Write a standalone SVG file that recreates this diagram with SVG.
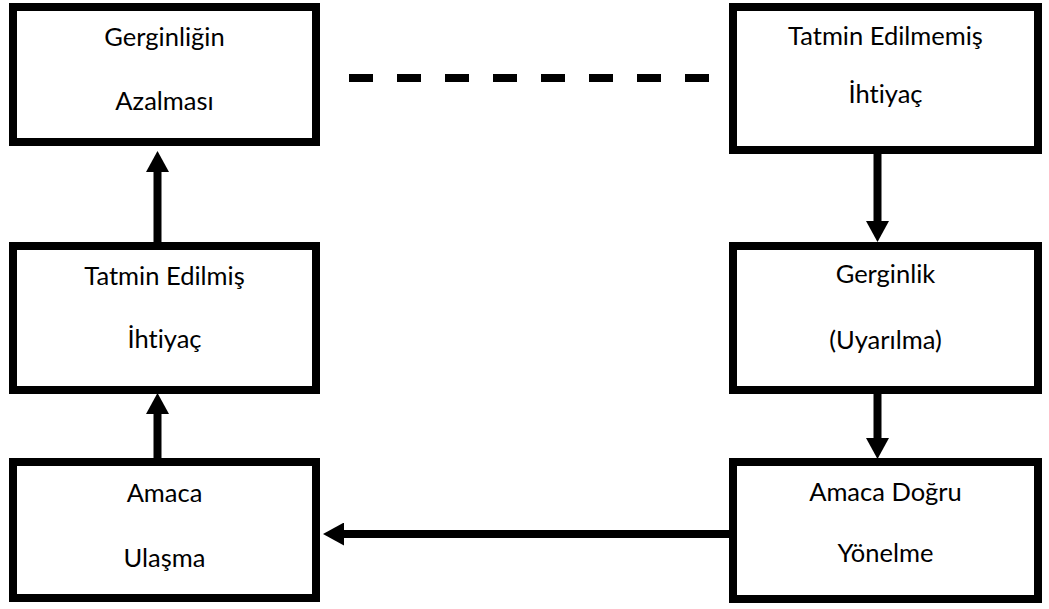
<svg xmlns="http://www.w3.org/2000/svg" width="1049" height="609" viewBox="0 0 1049 609">
<style>
.box{fill:#fff;stroke:#000;stroke-width:8}
.lbl{font-family:Lato,"Liberation Sans",sans-serif;font-size:25.5px;fill:#000;text-anchor:middle;font-variant-ligatures:none;font-feature-settings:"liga" 0}
.conn{stroke:#000;stroke-width:8;fill:none}
</style>
<defs>
<marker id="ah" markerUnits="userSpaceOnUse" markerWidth="21" markerHeight="23" refX="0" refY="11.5" orient="auto">
<path d="M0,0 L21,11.5 L0,23 Z" fill="#000"/>
</marker>
</defs>
<rect width="1049" height="609" fill="#fff"/>
<g id="n1">
<rect class="box" x="13" y="7" width="303" height="135"/>
<text class="lbl" x="164.5" y="46">Gerginliğin</text>
<text class="lbl" x="164.5" y="110">Azalması</text>
</g>
<g id="n2">
<rect class="box" x="733" y="7" width="305" height="143"/>
<text class="lbl" x="885.5" y="45">Tatmin Edilmemiş</text>
<text class="lbl" x="885.5" y="103">İhtiyaç</text>
</g>
<g id="n3">
<rect class="box" x="13" y="246" width="303" height="144"/>
<text class="lbl" x="164.5" y="285">Tatmin Edilmiş</text>
<text class="lbl" x="164.5" y="348">İhtiyaç</text>
</g>
<g id="n4">
<rect class="box" x="733" y="246" width="305" height="144"/>
<text class="lbl" x="885.5" y="283">Gerginlik</text>
<text class="lbl" x="885.5" y="349">(Uyarılma)</text>
</g>
<g id="n5">
<rect class="box" x="13" y="462" width="303" height="136"/>
<text class="lbl" x="164.5" y="502">Amaca</text>
<text class="lbl" x="164.5" y="567">Ulaşma</text>
</g>
<g id="n6">
<rect class="box" x="733" y="462" width="305" height="137"/>
<text class="lbl" x="885.5" y="501">Amaca Doğru</text>
<text class="lbl" x="885.5" y="562">Yönelme</text>
</g>
<g id="connectors">
<line class="conn" x1="349" y1="78" x2="709" y2="78" stroke-dasharray="24 24"/>
<line class="conn" x1="157.5" y1="242" x2="157.5" y2="172" marker-end="url(#ah)"/>
<line class="conn" x1="157.5" y1="458" x2="157.5" y2="414" marker-end="url(#ah)"/>
<line class="conn" x1="877.5" y1="154" x2="877.5" y2="221" marker-end="url(#ah)"/>
<line class="conn" x1="877.5" y1="394" x2="877.5" y2="438" marker-end="url(#ah)"/>
<line class="conn" x1="729" y1="534" x2="344" y2="534" marker-end="url(#ah)"/>
</g>
</svg>
